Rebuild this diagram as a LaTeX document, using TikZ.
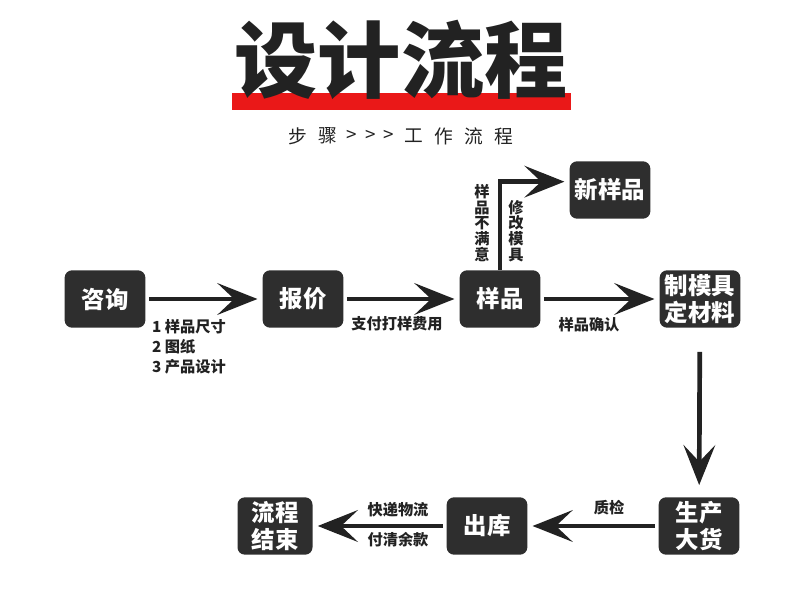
\documentclass[tikz,border=0pt]{standalone}
\usepackage{fontspec}
\setmainfont{Noto Sans CJK SC}
\usepackage{tikz}
\usetikzlibrary{arrows.meta,positioning}
\usepackage{xcolor}
\definecolor{boxgray}{HTML}{2E2E2E}
\definecolor{inkdark}{HTML}{222222}
\definecolor{barred}{HTML}{EA1818}

\begin{document}
\begin{tikzpicture}[x=0.03cm, y=-0.03cm,
  box/.style={fill=boxgray, rounded corners=0.22cm, minimum width=2.42cm,
    minimum height=1.72cm, inner sep=0pt, align=center, text=white,
    font=\fontsize{20}{23}\selectfont\bfseries},
  flow/.style={draw=inkdark, line width=4pt,
    -{Stealth[length=1.2cm, width=0.95cm, inset=0.5cm]},
    shorten <=0.1cm, shorten >=0.15cm},
  lbl/.style={text=inkdark, inner sep=0pt,
    font=\fontsize{13}{15.5}\selectfont\bfseries},
  vlbl/.style={lbl, align=center, font=\fontsize{13}{13.4}\selectfont\bfseries}]

\useasboundingbox (0,0) rectangle (800,596);

% --- titolo ---
\fill[barred] (232,93) rectangle (571,110);
\node[text=inkdark, font=\fontsize{71}{71}\selectfont\bfseries] (title) at (401,60) {设计流程};
\foreach \ch/\x [count=\i] in {步/298, 骤/328, >/352, >/371, >/389, 工/414, 作/444, 流/474, 程/504}{
  \node[text=inkdark, font=\fontsize{16}{16}\selectfont] (sub\i) at (\x,136) {\ch};
}

% --- fasi ---
\node[box] (ask) at (105,299) {咨询};
\node[box] (quote) at (303,299) {报价};
\node[box] (sample) at (500,299) {样品};
\node[box] (mould) at (700,299) {制模具\\定材料};
\node[box] (newsample) at (610,190) {新样品};
\node[box] (produce) at (699,526) {生产\\大货};
\node[box] (outstock) at (487,526) {出库};
\node[box, minimum width=2.25cm] (finish) at (275,526) {流程\\结束};

% --- frecce ---
\draw[flow] (ask) -- (quote);
\draw[flow] (quote) -- (sample);
\draw[flow] (sample) -- (mould);
\draw[flow, shorten <=0cm] (sample.north) |- ([yshift=0.25cm]newsample.west);
\draw[flow, shorten <=0.72cm, shorten >=0.36cm] (mould) -- (produce);
\draw[flow] (produce) -- (outstock);
\draw[flow] (outstock) -- (finish);

% --- etichette ---
\node[lbl, align=left, anchor=west, font=\fontsize{13}{17}\selectfont\bfseries] (sizes) at (152,347)
      {1 样品尺寸\\2 图纸\\3 产品设计};
\node[lbl] (pay) at (397,324) {支付打样费用};
\node[lbl] (confirm) at (589,325) {样品确认};
\node[vlbl] (unhappy) at (482,223) {样\\品\\不\\满\\意};
\node[vlbl] (modify) at (516,231) {修\\改\\模\\具};
\node[lbl] (qc) at (609,508) {质检};
\node[lbl] (ship) at (398,510) {快递物流};
\node[lbl] (settle) at (398,540) {付清余款};

\end{tikzpicture}
\end{document}
